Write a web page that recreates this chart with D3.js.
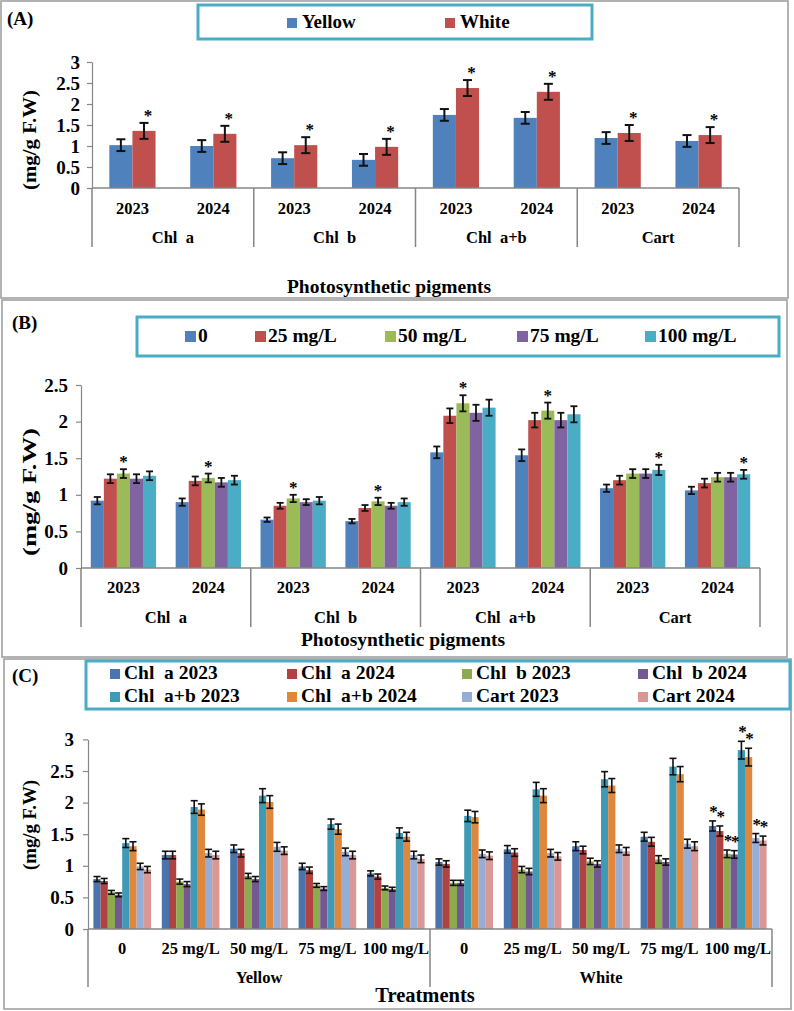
<!DOCTYPE html>
<html><head><meta charset="utf-8">
<script src="https://cdn.jsdelivr.net/npm/d3@7"></script>
<style>
body{margin:0;background:#fff;}
svg text{font-family:"Liberation Serif","Times New Roman",serif;font-weight:bold;fill:#000;white-space:pre;}
</style></head><body>
<svg id="c" width="794" height="1011"></svg>
<script>
// ---------- Panel A data ----------
const groupsA = ["Chl  a", "Chl  b", "Chl  a+b", "Cart"];
const yearsA = ["2023", "2024"];
const seriesNamesA = ["Yellow", "White"];
const yellowA = [1.02, 1.00, 0.71, 0.67, 1.74, 1.67, 1.19, 1.12];
const whiteA = [1.36, 1.29, 1.02, 0.98, 2.38, 2.29, 1.31, 1.26];
const yellowErrA = [0.14, 0.14, 0.14, 0.14, 0.14, 0.14, 0.14, 0.14];
const whiteErrA = [0.19, 0.19, 0.19, 0.19, 0.19, 0.19, 0.19, 0.19];
const sigSeriesA = [1, 1, 1, 1, 1, 1, 1, 1];
const ticksA = [0, 0.5, 1, 1.5, 2, 2.5, 3];
const tickLabelsA = ["0", "0.5", "1", "1.5", "2", "2.5", "3"];

// ---------- Panel B data ----------
const groupsB = ["Chl  a", "Chl  b", "Chl  a+b", "Cart"];
const yearsB = ["2023", "2024"];
const seriesNamesB = ["0", "25 mg/L", "50 mg/L", "75 mg/L", "100 mg/L"];
const b0 = [0.92, 0.90, 0.66, 0.64, 1.58, 1.54, 1.09, 1.06];
const b25 = [1.22, 1.19, 0.85, 0.82, 2.08, 2.02, 1.20, 1.16];
const b50 = [1.29, 1.23, 0.95, 0.91, 2.25, 2.15, 1.29, 1.24];
const b75 = [1.22, 1.17, 0.90, 0.85, 2.12, 2.02, 1.29, 1.24];
const b100 = [1.26, 1.20, 0.92, 0.90, 2.19, 2.10, 1.34, 1.28];
const e0 = [0.05, 0.05, 0.03, 0.03, 0.08, 0.08, 0.05, 0.05];
const e25 = [0.06, 0.06, 0.04, 0.04, 0.10, 0.10, 0.06, 0.06];
const e50 = [0.06, 0.06, 0.05, 0.05, 0.11, 0.11, 0.06, 0.06];
const e75 = [0.06, 0.06, 0.04, 0.04, 0.11, 0.10, 0.06, 0.06];
const e100 = [0.06, 0.06, 0.05, 0.05, 0.11, 0.11, 0.07, 0.06];
const sigSeriesB = [2, 2, 2, 2, 2, 2, 4, 4];
const ticksB = [0, 0.5, 1, 1.5, 2, 2.5];
const tickLabelsB = ["0", "0.5", "1", "1.5", "2", "2.5"];

// ---------- Panel C data ----------
const groupsC = ["Yellow", "White"];
const treatmentsC = ["0", "25 mg/L", "50 mg/L", "75 mg/L", "100 mg/L"];
const seriesNamesC = ["Chl  a 2023", "Chl  a 2024", "Chl  b 2023", "Chl  b 2024", "Chl  a+b 2023", "Chl  a+b 2024", "Cart 2023", "Cart 2024"];
const chlA23 = [0.79, 1.17, 1.27, 0.99, 0.88, 1.06, 1.26, 1.31, 1.46, 1.63];
const chlA24 = [0.76, 1.17, 1.20, 0.93, 0.83, 1.03, 1.21, 1.25, 1.38, 1.55];
const chlB23 = [0.58, 0.75, 0.84, 0.69, 0.65, 0.73, 0.94, 1.07, 1.10, 1.19];
const chlB24 = [0.54, 0.71, 0.79, 0.64, 0.63, 0.73, 0.91, 1.03, 1.06, 1.18];
const chlAB23 = [1.36, 1.93, 2.11, 1.66, 1.52, 1.79, 2.21, 2.37, 2.57, 2.83];
const chlAB24 = [1.31, 1.89, 2.01, 1.58, 1.46, 1.77, 2.11, 2.27, 2.45, 2.72];
const cart23 = [0.99, 1.20, 1.30, 1.22, 1.17, 1.19, 1.20, 1.27, 1.35, 1.44];
const cart24 = [0.94, 1.17, 1.24, 1.17, 1.11, 1.16, 1.15, 1.23, 1.31, 1.40];
const eA23 = [0.04, 0.06, 0.06, 0.05, 0.04, 0.05, 0.06, 0.07, 0.07, 0.08];
const eA24 = [0.04, 0.06, 0.06, 0.05, 0.04, 0.05, 0.06, 0.06, 0.07, 0.08];
const eB23 = [0.03, 0.04, 0.04, 0.03, 0.03, 0.04, 0.05, 0.05, 0.06, 0.06];
const eB24 = [0.03, 0.04, 0.04, 0.03, 0.03, 0.04, 0.05, 0.05, 0.05, 0.06];
const eAB23 = [0.07, 0.10, 0.11, 0.08, 0.08, 0.09, 0.11, 0.12, 0.13, 0.14];
const eAB24 = [0.07, 0.09, 0.10, 0.08, 0.07, 0.09, 0.11, 0.11, 0.12, 0.14];
const eC23 = [0.05, 0.06, 0.07, 0.06, 0.06, 0.06, 0.06, 0.06, 0.07, 0.07];
const eC24 = [0.05, 0.06, 0.06, 0.06, 0.06, 0.06, 0.06, 0.06, 0.07, 0.07];
const sigCatC = 9; // all series significant in the last category
const ticksC = [0, 0.5, 1, 1.5, 2, 2.5, 3];
const tickLabelsC = ["0", "0.5", "1", "1.5", "2", "2.5", "3"];

// ---------- drawing ----------
const svg = d3.select("#c");
const AXIS = "#868686";

function frame(x, y, w, h) {
  svg.append("rect").attr("x", x).attr("y", y).attr("width", w).attr("height", h)
    .attr("fill", "none").attr("stroke", "#a0a0a0").attr("stroke-width", 1.6);
}
frame(1, 1, 787, 297);
frame(2, 300, 785, 357);
frame(4, 659, 787, 350);

function panel(o) {
  const g = svg.append("g");
  const n = o.catLabels.length;
  const y = d3.scaleLinear().domain([0, o.ymax]).range([o.y0, o.yTop]);
  const x = d3.scaleBand().domain(d3.range(n)).range([o.xl, o.xr]);
  const inner = d3.scaleBand().domain(d3.range(o.series.length)).range([0, x.bandwidth()])
    .paddingInner(0).paddingOuter(0.75);
  const bw = inner.bandwidth();

  o.series.forEach((s, si) => {
    g.append("g").selectAll("rect").data(s.values).enter().append("rect")
      .attr("x", (d, i) => x(i) + inner(si))
      .attr("y", d => y(d))
      .attr("width", bw)
      .attr("height", d => y(0) - y(d))
      .attr("fill", s.color);
  });
  // error bars
  o.series.forEach((s, si) => {
    const eg = g.append("g").attr("stroke", "#111").attr("stroke-width", o.errW).attr("fill", "none");
    s.values.forEach((v, i) => {
      const cx = x(i) + inner(si) + bw / 2;
      const top = y(v + s.err[i]), bot = y(v - s.err[i]);
      eg.append("line").attr("x1", cx).attr("x2", cx).attr("y1", top).attr("y2", bot);
      eg.append("line").attr("x1", cx - o.cap / 2).attr("x2", cx + o.cap / 2).attr("y1", top).attr("y2", top);
      eg.append("line").attr("x1", cx - o.cap / 2).attr("x2", cx + o.cap / 2).attr("y1", bot).attr("y2", bot);
      if (o.isSig(si, i)) {
        g.append("text").attr("x", cx + o.starDx).attr("y", top - o.starDy)
          .attr("text-anchor", "middle").style("font-size", "17px").style("fill", "#000")
          .text("*");
      }
    });
  });

  // y axis
  const ya = g.append("g").attr("transform", `translate(${o.xl},0)`)
    .call(d3.axisLeft(y).tickValues(o.ticks).tickFormat((d, i) => o.tickLabels[i])
      .tickSize(5).tickSizeOuter(0).tickPadding(o.tickPad));
  ya.selectAll("path,line").attr("stroke", AXIS).attr("stroke-width", 1.2);
  ya.selectAll("text").attr("font-family", null).style("font-size", "19px").attr("fill", "#000");

  // x axis line + separators
  g.append("line").attr("x1", o.xl).attr("x2", o.xr).attr("y1", o.y0).attr("y2", o.y0)
    .attr("stroke", AXIS).attr("stroke-width", 1.5);
  const gs = o.groupSize;
  for (let k = 0; k <= n; k += gs) {
    const xx = k < n ? x(k) : o.xr;
    g.append("line").attr("x1", xx).attr("x2", xx).attr("y1", o.y0).attr("y2", o.sepBottom)
      .attr("stroke", AXIS).attr("stroke-width", 1.5);
  }
  o.catLabels.forEach((t, i) => {
    g.append("text").attr("x", x(i) + x.bandwidth() / 2).attr("y", o.catY)
      .attr("text-anchor", "middle").style("font-size", "16.5px").text(t);
  });
  o.groupLabels.forEach((t, k) => {
    const x1 = x(k * gs), x2 = (k + 1) * gs < n ? x((k + 1) * gs) : o.xr;
    g.append("text").attr("x", (x1 + x2) / 2).attr("y", o.groupY)
      .attr("text-anchor", "middle").style("font-size", "16.5px").text(t);
  });
  // axis titles
  g.append("text").attr("x", o.xTitleX).attr("y", o.xTitleY).attr("text-anchor", "middle")
    .style("font-size", o.xTitleSize + "px").text(o.xTitle);
  g.append("text").attr("transform", `translate(${o.yTitleX},${o.yTitleY}) rotate(-90)`)
    .attr("text-anchor", "middle").attr("dominant-baseline", "central")
    .attr("textLength", o.yTitleLen).attr("lengthAdjust", "spacingAndGlyphs")
    .style("font-size", "18px").text("(mg/g F.W)");
  // panel label
  g.append("text").attr("x", o.labX).attr("y", o.labY).style("font-size", "19px").text(o.label);
}

function legend(o) {
  const g = svg.append("g");
  g.append("rect").attr("x", o.box[0]).attr("y", o.box[1]).attr("width", o.box[2]).attr("height", o.box[3])
    .attr("fill", "#fff").attr("stroke", "#4BACC6").attr("stroke-width", 3);
  o.items.forEach((it, i) => {
    const px = o.xs[i % o.xs.length], py = o.ys[Math.floor(i / o.xs.length)];
    g.append("rect").attr("x", px).attr("y", py - o.sq).attr("width", o.sq).attr("height", o.sq).attr("fill", it.color);
    g.append("text").attr("x", px + o.tdx).attr("y", py).style("font-size", o.fs + "px").text(it.name);
  });
}

// Panel A
const colA = ["#4F81BD", "#C0504D"];
const catA = [];
groupsA.forEach(() => yearsA.forEach(y => catA.push(y)));
panel({
  label: "(A)", labX: 7, labY: 25,
  ymax: 3, y0: 188, yTop: 62, xl: 92, xr: 739,
  catLabels: catA, groupLabels: groupsA, groupSize: 2,
  series: [
    { values: yellowA, err: yellowErrA, color: colA[0] },
    { values: whiteA, err: whiteErrA, color: colA[1] }
  ],
  isSig: (si, i) => si === sigSeriesA[i],
  ticks: ticksA, tickLabels: tickLabelsA, tickPad: 7,
  errW: 2, cap: 9, starDx: 4, starDy: 2,
  sepBottom: 247, catY: 214, groupY: 243,
  xTitle: "Photosynthetic pigments", xTitleX: 389, xTitleY: 293, xTitleSize: 19.5,
  yTitleX: 30, yTitleY: 140, yTitleLen: 100
});
legend({
  box: [198, 5, 394, 34], xs: [287, 445], ys: [28], sq: 10, tdx: 15, fs: 19,
  items: seriesNamesA.map((n, i) => ({ name: n, color: colA[i] }))
});

// Panel B
const colB = ["#4F81BD", "#C0504D", "#9BBB59", "#8064A2", "#4BACC6"];
const catB = [];
groupsB.forEach(() => yearsB.forEach(y => catB.push(y)));
const valsB = [b0, b25, b50, b75, b100], errsB = [e0, e25, e50, e75, e100];
panel({
  label: "(B)", labX: 12, labY: 329,
  ymax: 2.5, y0: 568, yTop: 385, xl: 81, xr: 760,
  catLabels: catB, groupLabels: groupsB, groupSize: 2,
  series: valsB.map((v, i) => ({ values: v, err: errsB[i], color: colB[i] })),
  isSig: (si, i) => si === sigSeriesB[i],
  ticks: ticksB, tickLabels: tickLabelsB, tickPad: 8,
  errW: 1.8, cap: 7, starDx: 0, starDy: 2,
  sepBottom: 627, catY: 593, groupY: 623,
  xTitle: "Photosynthetic pigments", xTitleX: 403, xTitleY: 646, xTitleSize: 19.5,
  yTitleX: 29.5, yTitleY: 492, yTitleLen: 128
});
legend({
  box: [137, 317, 642, 39], xs: [185, 255, 385, 517, 645], ys: [342], sq: 11, tdx: 13, fs: 19.5,
  items: seriesNamesB.map((n, i) => ({ name: n, color: colB[i] }))
});

// Panel C
const colC = ["#4A74AC", "#B0423F", "#8CAB4F", "#745892", "#3F9AB5", "#DF873C", "#96ADD6", "#D99795"];
const catC = [];
groupsC.forEach(() => treatmentsC.forEach(t => catC.push(t)));
const valsC = [chlA23, chlA24, chlB23, chlB24, chlAB23, chlAB24, cart23, cart24];
const errsC = [eA23, eA24, eB23, eB24, eAB23, eAB24, eC23, eC24];
panel({
  label: "(C)", labX: 12, labY: 682,
  ymax: 3, y0: 929, yTop: 739.4, xl: 88, xr: 772,
  catLabels: catC, groupLabels: groupsC, groupSize: 5,
  series: valsC.map((v, i) => ({ values: v, err: errsC[i], color: colC[i] })),
  isSig: (si, i) => i === sigCatC,
  ticks: ticksC, tickLabels: tickLabelsC, tickPad: 9,
  errW: 1.6, cap: 7, starDx: 1, starDy: 4,
  sepBottom: 987, catY: 954, groupY: 983,
  xTitle: "Treatments", xTitleX: 425, xTitleY: 1002, xTitleSize: 20.5,
  yTitleX: 29.5, yTitleY: 825, yTitleLen: 90
});
legend({
  box: [86, 661, 704, 48], xs: [110, 287, 462, 638], ys: [679, 702], sq: 10, tdx: 14, fs: 19.5,
  items: seriesNamesC.map((n, i) => ({ name: n, color: colC[i] }))
});
</script>
</body></html>
